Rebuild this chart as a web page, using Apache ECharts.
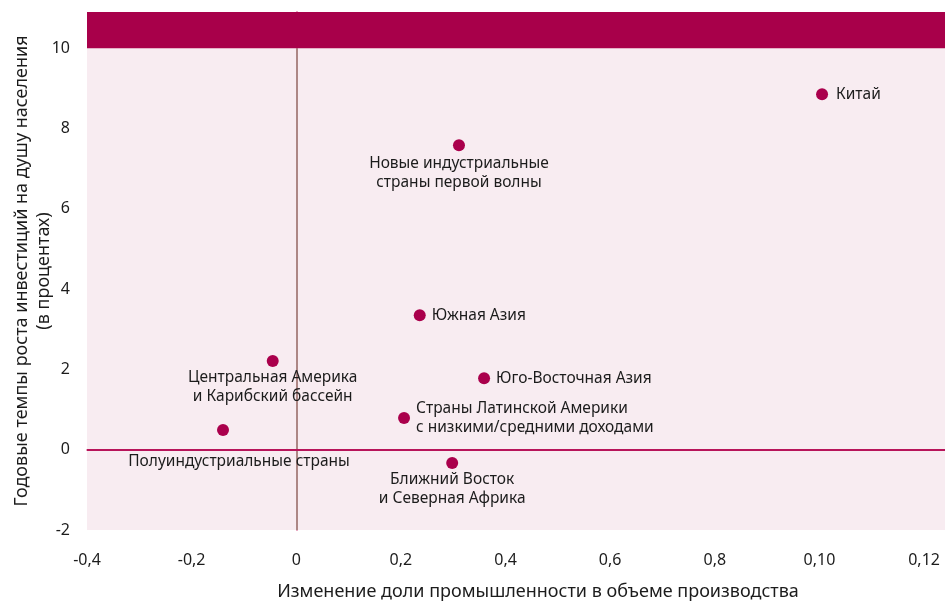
<!DOCTYPE html>
<html>
<head>
<meta charset="utf-8">
<script src="https://cdn.jsdelivr.net/npm/echarts@6/dist/echarts.min.js"></script>
<style>
  html, body { margin: 0; padding: 0; background: #fff; }
  #chart { width: 945px; height: 603px; }
</style>
</head>
<body>
<div id="chart"></div>
<script>
// regions and values
const regions = [
  'Китай',
  'Новые индустриальные\nстраны первой волны',
  'Южная Азия',
  'Центральная Америка\nи Карибский бассейн',
  'Юго-Восточная Азия',
  'Страны Латинской Америки\nс низкими/средними доходами',
  'Полуиндустриальные страны',
  'Ближний Восток\nи Северная Африка'
];
const industryShare = [1.005, 0.311, 0.236, -0.045, 0.359, 0.206, -0.14, 0.298];
const investGrowth = [8.85, 7.58, 3.35, 2.21, 1.78, 0.79, 0.49, -0.33];
const xTickLabels = ['-0,4', '-0,2', '0', '0,2', '0,4', '0,6', '0,8', '0,10', '0,12'];

// where each label sits relative to its dot
const labelPlace = [
  { pos: 'right', dist: 8 },
  { pos: 'bottom', dist: 3 },
  { pos: 'right', dist: 6 },
  { pos: 'bottom', dist: 1 },
  { pos: 'right', dist: 6 },
  { pos: 'right', dist: 6 },
  { pos: 'bottom', dist: 16, dx: 16 },
  { pos: 'bottom', dist: 1 }
];

const font = 'Noto Sans';
const textColor = '#1c1c1c';
const chart = echarts.init(document.getElementById('chart'));

const points = regions.map((name, i) => {
  const p = labelPlace[i];
  return {
    name: name,
    value: [industryShare[i], investGrowth[i]],
    label: {
      position: p.pos,
      align: p.pos === 'right' ? 'left' : 'center',
      distance: p.dist,
      offset: [p.dx || 0, 0]
    }
  };
});

const option = {
  animation: false,
  grid: {
    left: 87, right: 0, top: 12, bottom: 73,
    outerBoundsMode: 'none',
    containLabel: false,
    show: true,
    backgroundColor: '#f8ecf1',
    borderWidth: 0
  },
  xAxis: {
    type: 'value',
    min: -0.4,
    max: 1.24,
    interval: 0.2,
    name: 'Изменение доли промышленности в объеме производства',
    nameLocation: 'middle',
    nameGap: 53,
    nameMoveOverlap: false,
    nameTextStyle: { fontFamily: font, fontSize: 18, color: textColor, padding: [0, 0, 0, 44] },
    axisLine: { show: true, lineStyle: { color: '#c8326f', width: 1.5 } },
    axisTick: { show: false },
    splitLine: { show: false },
    axisLabel: {
      showMaxLabel: false,
      margin: 22,
      fontFamily: font, fontSize: 16, color: textColor,
      formatter: (v) => {
        const k = Math.round((v + 0.4) / 0.2);
        return xTickLabels[k] !== undefined ? xTickLabels[k] : '';
      }
    }
  },
  yAxis: {
    type: 'value',
    min: -2,
    max: 10.9,
    interval: 2,
    name: 'Годовые темпы роста инвестиций на душу населения\n(в процентах)',
    nameLocation: 'middle',
    nameRotate: 90,
    nameGap: 32,
    nameMoveOverlap: false,
    nameTextStyle: { fontFamily: font, fontSize: 18, color: textColor, lineHeight: 22, align: 'center' },
    axisLine: { show: true, lineStyle: { color: '#c8326f', width: 1.5 } },
    axisTick: { show: false },
    splitLine: { show: false },
    axisLabel: {
      showMaxLabel: false,
      margin: 17,
      fontFamily: font, fontSize: 16, color: textColor,
      formatter: (v) => String(v)
    }
  },
  series: [
    {
      // dark band above 10, vertical line at zero (up to the band) and horizontal zero line
      type: 'scatter',
      data: [],
      z: 2,
      markArea: {
        silent: true,
        itemStyle: { color: '#a8004a', opacity: 1 },
        data: [[{ yAxis: 10 }, { yAxis: 10.9 }]]
      },
      markLine: {
        silent: true,
        symbol: 'none',
        label: { show: false },
        data: [
          [
            { coord: [0, -2], lineStyle: { color: '#a09482', width: 1.5, type: 'solid' } },
            { coord: [0, 10] }
          ],
          { yAxis: 0, lineStyle: { color: '#b8145a', width: 2, type: 'solid' } }
        ]
      }
    },
    {
      type: 'scatter',
      z: 10,
      symbol: 'circle',
      symbolSize: 12,
      itemStyle: { color: '#aa004c', opacity: 1 },
      label: {
        show: true,
        formatter: '{b}',
        fontFamily: font,
        fontSize: 15.5,
        lineHeight: 19,
        color: textColor
      },
      data: points
    }
  ]
};
chart.setOption(option);
</script>
</body>
</html>
